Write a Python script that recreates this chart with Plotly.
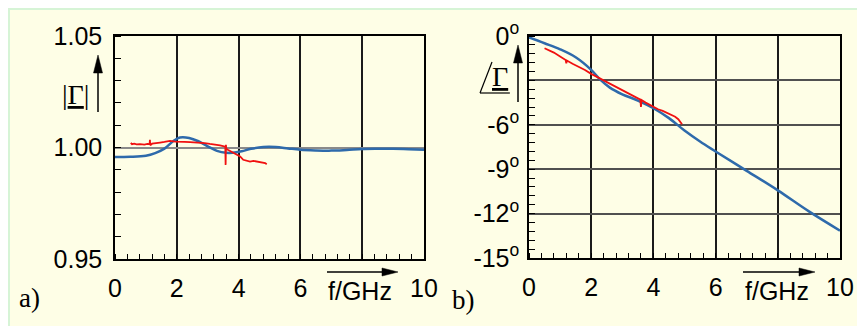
import plotly.graph_objects as go

W, H = 865, 326
OFF = 8  # page body margin offsets the figure by 8px

# ---------------- data ----------------
# panel a) |Gamma| vs f/GHz
mag_sim_f = [0.0, 0.5, 1.0, 1.3, 1.6, 1.9, 2.1, 2.4, 2.7, 3.0, 3.3, 3.6, 3.8, 4.1, 4.4, 4.8,
             5.2, 5.6, 6.0, 6.5, 7.0, 7.5, 8.0, 8.5, 9.0, 9.5, 10.0]
mag_sim = [0.9957, 0.9958, 0.9963, 0.9975, 0.9995, 1.0030, 1.0045, 1.0043, 1.0028, 1.0005,
           0.9985, 0.9976, 0.9976, 0.9983, 0.9994, 1.0002, 1.0002, 0.9996, 0.9990, 0.9987,
           0.9986, 0.9989, 0.9993, 0.9994, 0.9994, 0.9992, 0.9990]

mag_meas_f = [0.51, 0.55, 0.62, 0.70, 0.81, 0.95, 1.05, 1.12, 1.13, 1.14, 1.20, 1.30, 1.46,
              1.60, 1.78, 1.95, 2.10, 2.25, 2.43, 2.60, 2.75, 2.90, 3.07, 3.20, 3.29, 3.40,
              3.50, 3.57, 3.58, 3.59, 3.60, 3.65, 3.72, 3.83, 3.94, 4.05, 4.15, 4.25, 4.37,
              4.48, 4.58, 4.70, 4.80, 4.86, 4.91]
mag_meas = [1.0021, 1.0015, 1.0017, 1.0014, 1.0015, 1.0013, 1.0016, 1.0015, 1.0034, 1.0010,
            1.0017, 1.0018, 1.0022, 1.0025, 1.0030, 1.0026, 1.0027, 1.0025, 1.0024, 1.0023,
            1.0022, 1.0020, 1.0016, 1.0015, 1.0012, 1.0010, 1.0007, 1.0004, 0.9922, 1.0012,
            0.9995, 0.9990, 0.9985, 0.9978, 0.9970, 0.9960, 0.9945, 0.9940, 0.9937, 0.9940,
            0.9938, 0.9936, 0.9933, 0.9930, 0.9925]

# panel b) phase of Gamma (degrees) vs f/GHz
ph_sim_f = [0.0, 0.5, 1.0, 1.5, 2.0, 2.3, 2.6, 3.0, 3.5, 4.0, 4.5, 5.0, 5.5, 6.0, 7.0, 8.0,
            9.0, 10.0]
ph_sim = [-0.10, -0.49, -0.90, -1.44, -2.29, -2.97, -3.49, -3.94, -4.36, -4.88, -5.55, -6.39,
          -7.13, -7.80, -9.11, -10.43, -11.85, -13.15]

ph_meas_f = [0.50, 0.65, 0.80, 1.00, 1.18, 1.20, 1.22, 1.40, 1.60, 1.80, 2.00, 2.15, 2.30,
             2.45, 2.60, 2.80, 3.00, 3.15, 3.30, 3.45, 3.58, 3.60, 3.62, 3.75, 4.00, 4.15,
             4.30, 4.45, 4.55, 4.70, 4.80, 4.92]
ph_meas = [-0.83, -0.98, -1.12, -1.38, -1.62, -1.85, -1.66, -1.88, -2.07, -2.30, -2.56, -2.72,
           -2.90, -3.05, -3.24, -3.44, -3.64, -3.80, -3.98, -4.14, -4.30, -4.80, -4.33, -4.50,
           -4.81, -4.95, -5.06, -5.22, -5.28, -5.46, -5.62, -5.96]

x_ticks = [0, 2, 4, 6, 8, 10]
x_ticktext = ["0", "2", "4", "6", "", "10"]
mag_ticks = [0.95, 1.00, 1.05]
mag_ticktext = ["0.95", "1.00", "1.05"]
ph_ticks = [-15, -12, -9, -6, -3, 0]
ph_ticktext = ["-15<sup>o</sup>", "-12<sup>o</sup>", "-9<sup>o</sup>", "-6<sup>o</sup>", "", "0<sup>o</sup>"]

BLUE = "#2E6AAB"
RED = "#F01010"
SANS = "Liberation Sans, Arial, sans-serif"
SERIF = "Liberation Serif, Times New Roman, serif"

def PX(x):
    return (x - OFF) / W

def PY(y):
    return 1 - (y - OFF) / H

fig = go.Figure()
fig.add_trace(go.Scatter(x=mag_sim_f, y=mag_sim, mode="lines", line=dict(color=BLUE, width=2.5, shape="spline"),
                         xaxis="x", yaxis="y", showlegend=False))
fig.add_trace(go.Scatter(x=mag_meas_f, y=mag_meas, mode="lines", line=dict(color=RED, width=1.8),
                         xaxis="x", yaxis="y", showlegend=False))
fig.add_trace(go.Scatter(x=ph_sim_f, y=ph_sim, mode="lines", line=dict(color=BLUE, width=2.5, shape="spline"),
                         xaxis="x2", yaxis="y2", showlegend=False))
fig.add_trace(go.Scatter(x=ph_meas_f, y=ph_meas, mode="lines", line=dict(color=RED, width=1.8),
                         xaxis="x2", yaxis="y2", showlegend=False))

tickfont = dict(family=SANS, size=25, color="black")

def xaxis(domain, anchor):
    return dict(domain=domain, anchor=anchor, range=[0, 10], tickvals=x_ticks, ticktext=x_ticktext,
                showgrid=True, gridcolor="#1a1a1a", gridwidth=1.5, zeroline=False, automargin=False,
                showline=True, linecolor="black", linewidth=1.5, mirror=True,
                ticks="", tickfont=tickfont, ticklabelstandoff=6,
                minor=dict(dtick=0.4, tick0=0, ticks="inside", ticklen=5, tickcolor="black", tickwidth=1, showgrid=False))

fig.update_layout(
    width=W, height=H,
    margin=dict(l=0, r=0, t=0, b=0, autoexpand=False),
    paper_bgcolor="white", plot_bgcolor="white",
    xaxis=xaxis([PX(115), PX(424)], "y"),
    yaxis=dict(domain=[PY(259), PY(36)], anchor="x", range=[0.95, 1.05], tickvals=mag_ticks,
               ticktext=mag_ticktext, showgrid=True, gridcolor="#8a8a8a", gridwidth=2, zeroline=False,
               showline=True, linecolor="black", linewidth=1.5, mirror=True, ticks="", automargin=False,
               tickfont=tickfont, ticklabelstandoff=6,
               minor=dict(dtick=0.01, tick0=0.95, ticks="inside", ticklen=6, tickcolor="black", tickwidth=1, showgrid=False)),
    xaxis2=xaxis([PX(529), PX(840)], "y2"),
    yaxis2=dict(domain=[PY(258), PY(36)], anchor="x2", range=[-15, 0], tickvals=ph_ticks,
                ticktext=ph_ticktext, showgrid=True, gridcolor="#505050", gridwidth=1.5, zeroline=False,
                showline=True, linecolor="black", linewidth=1.5, mirror=True, ticks="", automargin=False,
                tickfont=tickfont, ticklabelstandoff=3,
                minor=dict(dtick=0.6, tick0=0, ticks="inside", ticklen=6, tickcolor="black", tickwidth=1, showgrid=False)),
)

shapes = []
# background panel
shapes.append(dict(type="rect", xref="paper", yref="paper", x0=PX(8.5), x1=PX(900), y0=PY(360), y1=PY(8.5),
                   fillcolor="#FEFEE6", line=dict(color="#D6F4D6", width=3), layer="below"))

def vline_arrow(x, y_bottom, y_tip, head_len=18, head_w=9):
    shapes.append(dict(type="line", xref="paper", yref="paper", x0=PX(x), x1=PX(x),
                       y0=PY(y_bottom), y1=PY(y_tip + head_len - 2), line=dict(color="black", width=1.5)))
    shapes.append(dict(type="path", xref="paper", yref="paper",
                       path=f"M {PX(x)} {PY(y_tip)} L {PX(x - head_w / 2)} {PY(y_tip + head_len)} L {PX(x + head_w / 2)} {PY(y_tip + head_len)} Z",
                       fillcolor="black", line=dict(color="black", width=0.5)))

def hline_arrow(x_left, x_tip, y, head_len=16, head_w=8):
    shapes.append(dict(type="line", xref="paper", yref="paper", x0=PX(x_left), x1=PX(x_tip - head_len + 2),
                       y0=PY(y), y1=PY(y), line=dict(color="black", width=1.5)))
    shapes.append(dict(type="path", xref="paper", yref="paper",
                       path=f"M {PX(x_tip)} {PY(y)} L {PX(x_tip - head_len)} {PY(y - head_w / 2)} L {PX(x_tip - head_len)} {PY(y + head_w / 2)} Z",
                       fillcolor="black", line=dict(color="black", width=0.5)))

vline_arrow(98, 112, 55)
vline_arrow(518, 102, 45)
hline_arrow(327, 398, 272)
hline_arrow(743, 815, 272)

# angle symbol
shapes.append(dict(type="line", xref="paper", yref="paper", x0=PX(480), x1=PX(492), y0=PY(93), y1=PY(62),
                   line=dict(color="black", width=1.2)))
shapes.append(dict(type="line", xref="paper", yref="paper", x0=PX(480), x1=PX(510), y0=PY(93), y1=PY(93),
                   line=dict(color="black", width=1.2)))
fig.update_layout(shapes=shapes)

ann = []
def text(x, y, s, family, size):
    ann.append(dict(x=PX(x), y=PY(y), xref="paper", yref="paper", text=s, showarrow=False,
                    font=dict(family=family, size=size, color="black"), xanchor="center", yanchor="middle"))

text(29, 298, "a)", SERIF, 27)
text(463, 300, "b)", SERIF, 27)
text(75, 94, "|<u>Γ</u>|", SERIF, 28)
text(500, 76, "<u>Γ</u>", SERIF, 28)
text(360, 291, "f/GHz", SANS, 25)
text(777, 291, "f/GHz", SANS, 25)
fig.update_layout(annotations=ann)

fig.write_html("out.html")
